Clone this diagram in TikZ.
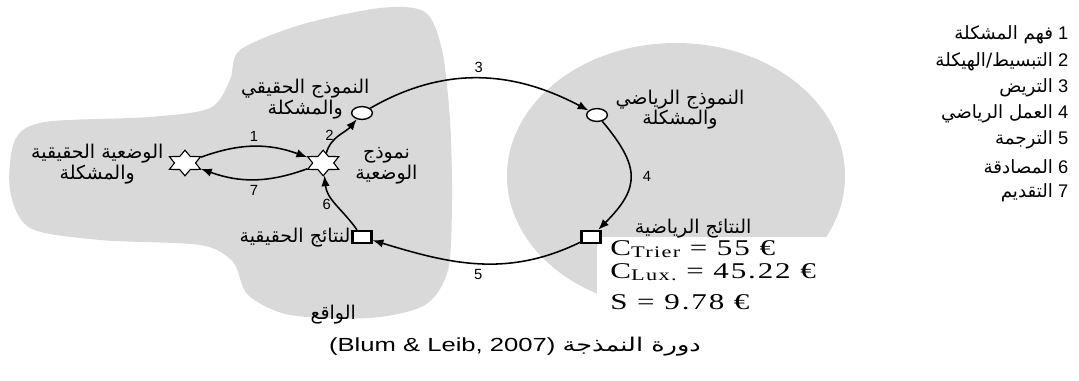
\documentclass[tikz,border=0pt]{standalone}
\usepackage{fontspec}
\setmainfont{Liberation Sans}
\newfontfamily\arabicfont[Script=Arabic]{DejaVu Sans}
\newfontfamily\formfont[LetterSpace=6]{Liberation Serif}
\TeXXeTstate=1
\usetikzlibrary{shapes.geometric,arrows.meta}
\definecolor{blobgray}{gray}{0.85}
\newcommand{\rtl}[1]{\beginR #1\endR}

\begin{document}
\begin{tikzpicture}[
  flow/.style={line width=1.1pt,-{Latex[length=2.7mm,width=2.1mm]}},
  starnode/.style={star,star points=6,star point ratio=1.7,draw,fill=white,line width=0.8pt,minimum size=0.64cm,inner sep=0pt,xscale=1.4},
  ovalnode/.style={ellipse,draw,fill=white,line width=1pt,minimum width=0.52cm,minimum height=0.32cm,inner sep=0pt},
  boxnode/.style={rectangle,draw,fill=white,line width=1.7pt,minimum width=0.47cm,minimum height=0.3cm,inner sep=0pt},
  lbl/.style={font=\arabicfont\fontsize{13.5}{14.5}\selectfont,align=center,inner sep=1pt},
  num/.style={font=\fontsize{10.5}{12}\selectfont},
  formula/.style={anchor=base west,font=\formfont\fontsize{16}{18}\selectfont,xscale=1.38,inner sep=0pt}]
\useasboundingbox (0,0) rectangle (26.975,9.525);
% the two areas
\fill[blobgray] plot[smooth cycle] coordinates {(6.0,8.275) (7.5,8.9) (9.5,9.325) (10.625,9.225) (11.05,8.275) (11.25,6.525) (11.3,4.525) (11.2,2.775) (10.625,1.9) (9.25,1.575) (7.25,1.65) (6.2,2.15) (5.825,2.975) (5.0,3.4) (2.5,3.525) (0.75,3.825) (0.25,4.775) (0.375,6.025) (1.125,6.475) (3.75,6.6) (5.25,6.825) (5.75,7.525)};
\fill[blobgray] (16.9,5.125) ellipse [x radius=4.225,y radius=3.325];
\fill[white] (14.93,1.0) rectangle (22.0,3.6);
% cycle nodes
\node[starnode] (realsit) at (4.625,5.45) {};
\node[starnode] (sitmodel) at (8.08,5.45) {};
\node[ovalnode] (realmodel) at (9.05,6.7) {};
\node[ovalnode] (mathmodel) at (14.925,6.65) {};
\node[boxnode] (mathres) at (14.775,3.6) {};
\node[boxnode] (realres) at (9.05,3.6) {};
% arrows of the cycle
\draw[flow] (realsit) to[bend left=20] node[num,above] {1} (sitmodel);
\draw[flow] (sitmodel) to[bend left=20] node[num,below] {7} (realsit);
\draw[flow] (sitmodel) to[out=75,in=230] node[num,left] {2} (realmodel);
\draw[flow] (realmodel) to[out=30,in=152] node[num,above] {3} (mathmodel);
\draw[flow] (mathmodel) to[out=-50,in=45,looseness=1.4] node[num,right=5pt] {4} (mathres);
\draw[flow] (mathres) to[out=206,in=-17] node[num,below] {5} (realres);
\draw[flow] (realres) to[out=125,in=-85] node[num,left] {6} (sitmodel);
% labels
\node[lbl] (realsitlbl) at (2.43,5.42) {\rtl{الوضعية الحقيقية}\\\rtl{والمشكلة}};
\node[lbl] (realmodellbl) at (7.63,7.05) {\rtl{النموذج الحقيقي}\\\rtl{والمشكلة}};
\node[lbl] (sitmodellbl) at (9.66,5.38) {\rtl{نموذج}\\\rtl{الوضعية}};
\node[lbl,anchor=east] (realreslbl) at (8.8,3.58) {\rtl{لنتائج الحقيقية}};
\node[lbl] (mathmodellbl) at (17.0,6.78) {\rtl{النموذج الرياضي}\\\rtl{والمشكلة}};
\node[lbl] (mathreslbl) at (17.33,3.8) {\rtl{النتائج الرياضية}};
\node[lbl] (reality) at (8.33,1.65) {\rtl{الواقع}};
% results
\node[formula] (ctrier) at (15.25,3.13) {C\raisebox{-1.5pt}{\fontsize{11.5}{12}\selectfont Trier} = 55 €};
\node[formula] (clux) at (15.25,2.56) {C\raisebox{-1.5pt}{\fontsize{11.5}{12}\selectfont Lux.} = 45.22 €};
\node[formula] (saving) at (15.25,1.79) {S = 9.78 €};
% legend
\foreach \i/\txt in {1/{فهم المشكلة},2/{التبسيط/الهيكلة},3/{التريض},4/{العمل الرياضي},5/{الترجمة},6/{المصادقة},7/{التقديم}}
  \node[anchor=east,font=\fontsize{13}{15}\selectfont] (leg\i) at (26.83,{8.65-0.658*(\i-1)}) {{\arabicfont\rtl{\txt}}\ \i};
\node[font=\fontsize{13.5}{15}\selectfont,xscale=1.35] (caption) at (12.875,0.85) {(Blum \& Leib, 2007) {\arabicfont\rtl{دورة النمذجة}}};
\end{tikzpicture}
\end{document}
